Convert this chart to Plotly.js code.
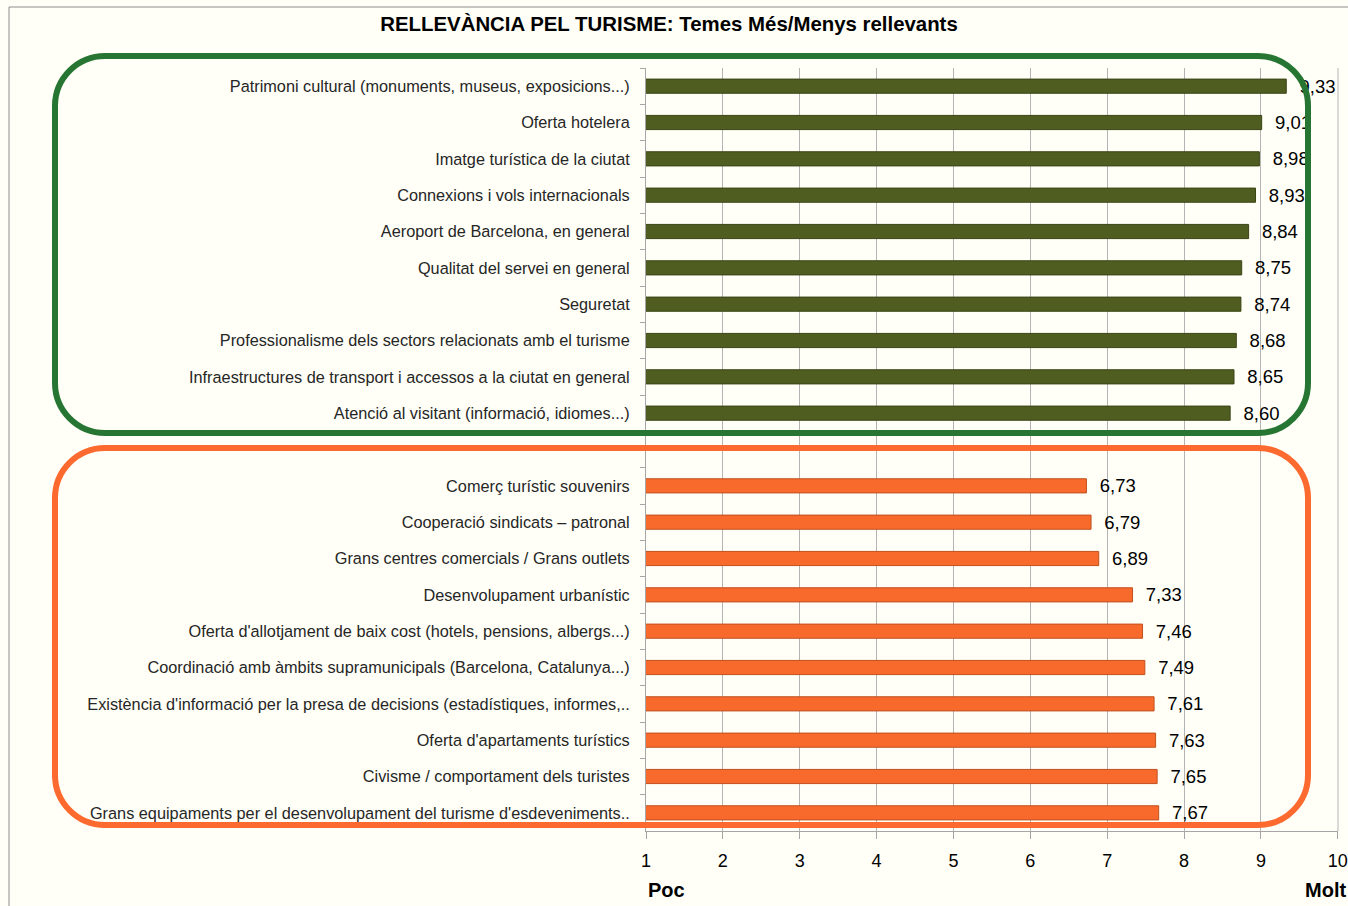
<!DOCTYPE html>
<html>
<head>
<meta charset="utf-8">
<script src="https://cdn.plot.ly/plotly-3.0.1.min.js"></script>
<style>html,body{margin:0;padding:0;background:#fffff7;}#chart{width:1348px;height:906px;}</style>
</head>
<body>
<div id="chart"></div>
<script>
// ---- data ----
const topCategories = [
  "Patrimoni cultural (monuments, museus, exposicions...)",
  "Oferta hotelera",
  "Imatge turística de la ciutat",
  "Connexions i vols internacionals",
  "Aeroport de Barcelona, en general",
  "Qualitat del servei en general",
  "Seguretat",
  "Professionalisme dels sectors relacionats amb el turisme",
  "Infraestructures de transport i accessos a la ciutat en general",
  "Atenció al visitant (informació, idiomes...)"
];
const topValues = [9.33, 9.01, 8.98, 8.93, 8.84, 8.75, 8.74, 8.68, 8.65, 8.60];

const bottomCategories = [
  "Comerç turístic souvenirs",
  "Cooperació sindicats – patronal",
  "Grans centres comercials / Grans outlets",
  "Desenvolupament urbanístic",
  "Oferta d'allotjament de baix cost (hotels, pensions, albergs...)",
  "Coordinació amb àmbits supramunicipals (Barcelona, Catalunya...)",
  "Existència d'informació per la presa de decisions (estadístiques, informes,..",
  "Oferta d'apartaments turístics",
  "Civisme / comportament dels turistes",
  "Grans equipaments per el desenvolupament del turisme d'esdeveniments.."
];
const bottomValues = [6.73, 6.79, 6.89, 7.33, 7.46, 7.49, 7.61, 7.63, 7.65, 7.67];

const spacerCategory = " ";
const xTickValues = [1, 2, 3, 4, 5, 6, 7, 8, 9, 10];
const titleText = "RELLEVÀNCIA PEL TURISME: Temes Més/Menys rellevants";
const lowLabel = "Poc";
const highLabel = "Molt";

// ---- layout helpers ----
const W = 1348, H = 906;
const M = {l: 646, r: 10, t: 68, b: 75};
const PW = W - M.l - M.r, PH = H - M.t - M.b;
function px(x) { return (x - M.l) / PW; }
function py(y) { return (H - M.b - y) / PH; }
function roundRect(x0, y0, x1, y1, r) {
  const k = 0.5523 * r;
  const P = (x, y) => px(x).toFixed(5) + "," + py(y).toFixed(5);
  return "M" + P(x0 + r, y0) +
    " L" + P(x1 - r, y0) +
    " C" + P(x1 - r + k, y0) + " " + P(x1, y0 + r - k) + " " + P(x1, y0 + r) +
    " L" + P(x1, y1 - r) +
    " C" + P(x1, y1 - r + k) + " " + P(x1 - r + k, y1) + " " + P(x1 - r, y1) +
    " L" + P(x0 + r, y1) +
    " C" + P(x0 + r - k, y1) + " " + P(x0, y1 - r + k) + " " + P(x0, y1 - r) +
    " L" + P(x0, y0 + r) +
    " C" + P(x0, y0 + r - k) + " " + P(x0 + r - k, y0) + " " + P(x0 + r, y0) + " Z";
}

const font = "Liberation Sans, Arial, sans-serif";
const allCategories = topCategories.concat([spacerCategory], bottomCategories);

const traces = [
  {
    type: "bar", orientation: "h",
    y: topCategories, x: topValues,
    marker: {color: "#4f5e20", line: {color: "#3a4415", width: 1}},
    texttemplate: "\u00a0\u00a0%{x:.2f}", textposition: "outside",
    textfont: {family: font, size: 18.5, color: "#000"},
    constraintext: "none", cliponaxis: false, hoverinfo: "x+y"
  },
  {
    type: "bar", orientation: "h",
    y: bottomCategories, x: bottomValues,
    marker: {color: "#f76a2c", line: {color: "#c0501f", width: 1}},
    texttemplate: "\u00a0\u00a0%{x:.2f}", textposition: "outside",
    textfont: {family: font, size: 18.5, color: "#000"},
    constraintext: "none", cliponaxis: false, hoverinfo: "x+y"
  }
];

const layout = {
  width: W, height: H,
  paper_bgcolor: "#fffff7", plot_bgcolor: "#fffff7",
  margin: M,
  showlegend: false,
  barmode: "overlay",
  bargap: 0.61,
  separators: ",.",
  font: {family: font, color: "#000"},
  title: {
    text: "<b>" + titleText + "</b>",
    font: {family: font, size: 20.4, color: "#000"},
    xref: "container", yref: "container",
    x: 669 / W, y: 1 - 24 / H, xanchor: "center", yanchor: "middle"
  },
  xaxis: {
    range: [1, 10.003], tickvals: xTickValues, ticktext: xTickValues.map(String),
    showgrid: true, gridcolor: "#b4b4b4", gridwidth: 1,
    zeroline: false,
    showline: true, linecolor: "#a6a6a6", linewidth: 1,
    ticks: "outside", ticklen: 7, tickcolor: "#a6a6a6",
    tickfont: {family: font, size: 18, color: "#000"},
    ticklabelstandoff: 6,
    fixedrange: true
  },
  yaxis: {
    type: "category",
    categoryorder: "array", categoryarray: allCategories,
    autorange: "reversed",
    showgrid: false, zeroline: false,
    showline: true, linecolor: "#a6a6a6", linewidth: 1,
    ticks: "outside", ticklen: 5, tickcolor: "#a6a6a6", tickson: "boundaries",
    tickfont: {family: font, size: 16.3, color: "#262626"},
    ticklabelstandoff: 12,
    fixedrange: true
  },
  shapes: [
    {type: "rect", xref: "paper", yref: "paper",
     x0: px(9), x1: px(1360), y0: py(7), y1: py(920),
     line: {color: "#8c8c8c", width: 1}, fillcolor: "rgba(0,0,0,0)", layer: "below"},
    {type: "line", xref: "paper", yref: "paper", x0: 1, x1: 1, y0: 0, y1: 1,
     line: {color: "#b4b4b4", width: 1}, layer: "below"},
    {type: "path", xref: "paper", yref: "paper",
     path: roundRect(55, 56, 1308, 433, 50),
     line: {color: "#277532", width: 6}},
    {type: "path", xref: "paper", yref: "paper",
     path: roundRect(55, 448, 1308, 825, 50),
     line: {color: "#fd6a30", width: 6}}
  ],
  annotations: [
    {xref: "paper", yref: "paper", x: px(666), y: py(890), text: "<b>" + lowLabel + "</b>",
     showarrow: false, xanchor: "center", yanchor: "middle",
     font: {family: font, size: 20, color: "#000"}},
    {xref: "paper", yref: "paper", x: px(1325), y: py(890), text: "<b>" + highLabel + "</b>",
     showarrow: false, xanchor: "center", yanchor: "middle",
     font: {family: font, size: 20, color: "#000"}}
  ]
};

Plotly.newPlot("chart", traces, layout, {displayModeBar: false, staticPlot: true});
</script>
</body>
</html>
